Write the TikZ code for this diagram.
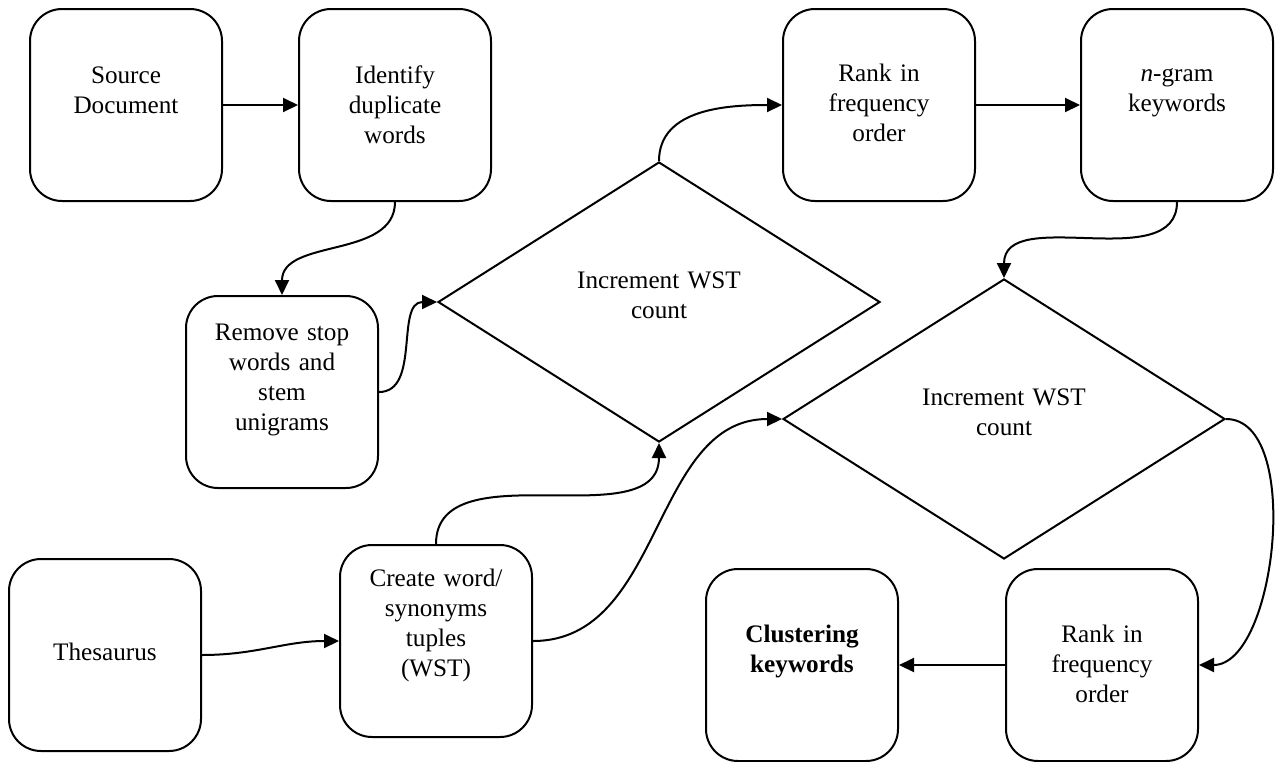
\documentclass[tikz,border=0pt]{standalone}
\usepackage{fontspec}
\setmainfont{Liberation Serif}
\usepackage{tikz}
\usetikzlibrary{shapes.geometric, arrows.meta}

\tikzset{
  box/.style={draw, line width=1pt, rounded corners=16pt, minimum width=96pt, minimum height=96pt,
    inner sep=0pt, text width=92pt, align=center, font=\fontsize{12.6}{15}\selectfont,
    text height=#1, text depth=96pt-#1},
  box/.default=37pt,
  dec/.style={draw, diamond, line width=1pt, minimum width=221pt, minimum height=140pt,
    inner sep=0pt, text width=100pt, align=center, font=\fontsize{12.6}{15}\selectfont,
    text height=9pt, text depth=23pt},
  conn/.style={line width=1pt, -{Triangle[length=7.5pt,width=7pt]}}
}

\begin{document}
\begin{tikzpicture}[x=0.5pt, y=-0.5pt]
  \useasboundingbox (0,0) rectangle (1275,761);
  \node[box] (src) at (126,105) {Source\\Document};
  \node[box] (dup) at (395,105) {Identify\\duplicate\\words};
  \node[box=36pt] (rankA) at (879,105) {Rank in\\frequency\\order};
  \node[box=36pt] (ngram) at (1177,105) {\textit{n}-gram\\keywords};
  \node[box=22pt] (stop) at (282,392) {Remove stop\\words and\\stem\\unigrams};
  \node[box=50.5pt] (thes) at (105,655) {Thesaurus};
  \node[box=20.5pt] (wst) at (436,641) {Create word/\\synonyms\\tuples\\(WST)};
  \node[box=36.5pt] (clus) at (802,665) {\textbf{Clustering}\\\textbf{keywords}};
  \node[box=36.5pt] (rankB) at (1102,665) {Rank in\\frequency\\order};
  \node[dec] (incA) at (659,302) {Increment WST\\count};
  \node[dec] (incB) at (1004,419) {Increment WST\\count};
  \draw[conn] (src) -- (dup);
  \draw[conn] (dup.south) to[out=-90,in=90] (stop.north);
  \draw[conn] (stop.east) to[out=0,in=180] (incA.west);
  \draw[conn] (incA.north) to[out=90,in=180] (rankA.west);
  \draw[conn] (rankA) -- (ngram);
  \draw[conn] (ngram.south) to[out=-90,in=90] (incB.north);
  \draw[conn] (thes.east) to[out=0,in=180] (wst.west);
  \draw[conn] (wst.north) to[out=90,in=-90] (incA.south);
  \draw[conn] (wst.east) to[out=0,in=180] (incB.west);
  \draw[conn] (incB.east) to[out=0,in=0,looseness=0.8] (rankB.east);
  \draw[conn] (rankB) -- (clus);
\end{tikzpicture}
\end{document}
